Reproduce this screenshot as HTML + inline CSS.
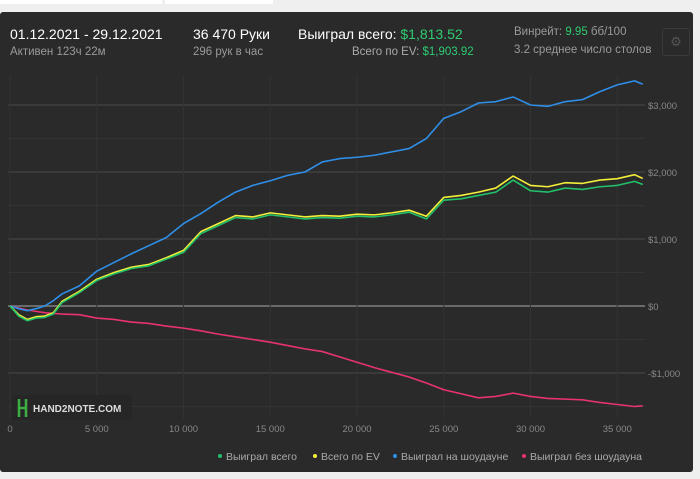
<!DOCTYPE html>
<html><head><meta charset="utf-8"><style>
body{margin:0;width:700px;height:479px;background:#efefef;font-family:"Liberation Sans","Noto Sans CJK SC",sans-serif;position:relative;overflow:hidden}
.panel{position:absolute;left:0;top:12px;width:693px;height:460px;background:#2a2a2a;border-radius:3px}
.t{position:absolute;white-space:nowrap}
.big{font-size:14px;color:#fff}
.sm{font-size:11.5px;color:#9a9a9a}
.g{color:#2ecc71}
</style></head><body>
<div style="position:absolute;left:0;top:0;width:162px;height:4px;background:#fff"></div>
<div style="position:absolute;left:165px;top:0;width:108px;height:4px;background:#fff"></div>
<div class="panel">
<div class="t big" style="left:10px;top:14px">01.12.2021 - 29.12.2021</div>
<div class="t sm" style="left:10px;top:34px">Активен 123ч 22м</div>
<div class="t big" style="left:193px;top:14px">36 470 Руки</div>
<div class="t sm" style="left:193px;top:34px">296 рук в час</div>
<div class="t big" style="left:298px;top:14px">Выиграл всего: <span class="g">$1,813.52</span></div>
<div class="t sm" style="left:352px;top:34px;color:#aaa">Всего по EV: <span class="g">$1,903.92</span></div>
<div class="t sm" style="left:514px;top:14px">Винрейт: <span class="g">9.95</span> бб/100</div>
<div class="t sm" style="left:514px;top:32px">3.2 среднее число столов</div>
<div style="position:absolute;left:662px;top:16px;width:26px;height:26px;border:1px solid #3a3a3a;border-radius:3px;color:#555;font-size:13px;text-align:center;line-height:26px">⚙</div>
</div>
<svg id="c" width="700" height="479" style="position:absolute;left:0;top:0"></svg>
<script>
const xTicks=[0,5000,10000,15000,20000,25000,30000,35000];
const yTicks=[-1000,0,1000,2000,3000];
const yLabels=["-$1,000","$0","$1,000","$2,000","$3,000"];
const hands=[0,500,1000,1500,2000,2500,3000,4000,5000,6000,7000,8000,9000,10000,11000,12000,13000,14000,15000,16000,17000,18000,19000,20000,21000,22000,23000,24000,25000,26000,27000,28000,29000,30000,31000,32000,33000,34000,35000,36000,36470];
const won=[0,-150,-220,-180,-170,-120,50,200,380,480,560,600,700,800,1080,1200,1320,1300,1360,1330,1300,1320,1310,1340,1330,1360,1400,1300,1580,1600,1650,1700,1880,1720,1700,1760,1740,1780,1800,1860,1813];
const ev=[0,-130,-200,-160,-150,-100,70,220,400,500,580,620,720,830,1110,1230,1350,1330,1390,1360,1330,1350,1340,1370,1360,1390,1430,1340,1620,1650,1700,1760,1940,1800,1780,1840,1830,1880,1900,1960,1904];
const showdown=[0,-40,-70,-40,0,80,180,300,520,650,780,900,1020,1230,1380,1550,1700,1800,1870,1950,2000,2150,2200,2220,2250,2300,2350,2500,2800,2900,3030,3050,3120,3000,2980,3050,3080,3200,3300,3360,3310];
const noShowdown=[0,-30,-60,-80,-100,-110,-120,-130,-180,-200,-240,-260,-300,-330,-370,-420,-460,-500,-540,-590,-640,-680,-760,-840,-920,-990,-1060,-1150,-1250,-1310,-1370,-1350,-1300,-1350,-1380,-1390,-1400,-1440,-1470,-1500,-1490];
const X=v=>10+v*0.01735, Y=v=>306-v*0.067;
const svg=document.getElementById('c'),NS='http://www.w3.org/2000/svg';
function mk(t,a){const e=document.createElementNS(NS,t);for(const k in a)e.setAttribute(k,a[k]);svg.appendChild(e);return e;}
for(let v=-1500;v<=3300;v+=500){const l=mk('line',{x1:8,x2:645,y1:Y(v),y2:Y(v),stroke:v===0?'#6a6a6a':(v%1000===0?'#4a4a4a':'#333'),'stroke-width':v===0?2:1});

}
xTicks.forEach(v=>{const l=mk('line',{x1:X(v),x2:X(v),y1:75,y2:418,stroke:'#333'});


const t=mk('text',{x:X(v),y:432,fill:'#888','font-size':9.5,'text-anchor':'middle','font-family':'Liberation Sans'});t.textContent=v===0?'0':(v/1000)+' 000';

});
yTicks.forEach((v,i)=>{const t=mk('text',{x:648,y:Y(v)+4,fill:'#888','font-size':9.5,'font-family':'Liberation Sans'});t.textContent=yLabels[i];

});
const series=[[noShowdown,'#e8336d','no-showdown-line'],[showdown,'#2f8fe8','showdown-line'],[ev,'#f4ef3a','ev-line'],[won,'#22c06a','won-line']];
series.forEach(([d,c,n])=>{const p=mk('polyline',{points:d.map((v,i)=>X(hands[i])+','+Y(v)).join(' '),fill:'none',stroke:c,'stroke-width':1.6,'stroke-linejoin':'round'});

});
const wm=mk('rect',{x:12,y:395,width:120,height:25,fill:'#262626'});


mk('path',{d:'M19 399v18M26 399v18M19 408h7',stroke:'#3cb043','stroke-width':2.5,fill:'none'});
const wt=mk('text',{x:33,y:412,fill:'#ddd','font-size':10,'font-weight':'bold','font-family':'Liberation Sans'});wt.textContent='HAND2NOTE.COM';


const leg=[['Выиграл всего','#22c06a',218],['Всего по EV','#f4ef3a',313],['Выиграл на шоудауне','#2f8fe8',393],['Выиграл без шоудауна','#e8336d',522]];
leg.forEach(([s,c,x])=>{const g=mk('g',{});


const ci=document.createElementNS(NS,'circle');ci.setAttribute('cx',x+2);ci.setAttribute('cy',456);ci.setAttribute('r',2);ci.setAttribute('fill',c);g.appendChild(ci);
const t=document.createElementNS(NS,'text');t.setAttribute('x',x+8);t.setAttribute('y',460);t.setAttribute('fill','#aaa');t.setAttribute('font-size',10.5);t.setAttribute('font-family','Liberation Sans');t.textContent=s;g.appendChild(t);});
</script>
</body></html>
